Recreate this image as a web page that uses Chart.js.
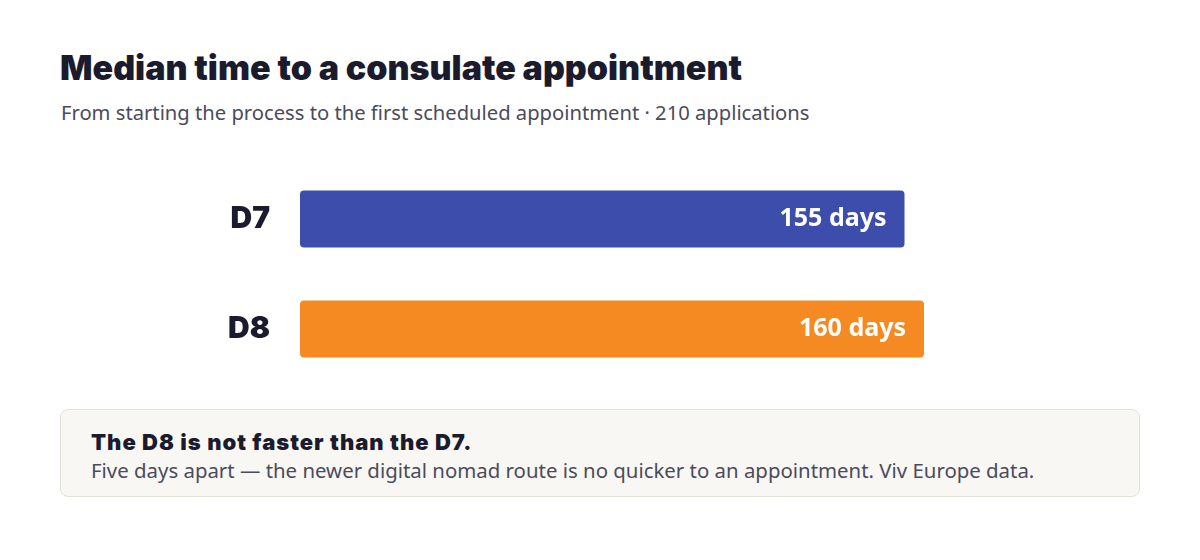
<!DOCTYPE html>
<html>
<head>
<meta charset="utf-8">
<script src="https://cdn.jsdelivr.net/npm/chart.js@4.4.1/dist/chart.umd.min.js"></script>
<style>
  body { margin: 0; background: #ffffff; font-family: "Noto Sans", sans-serif; }
  #page { position: relative; width: 1200px; height: 560px; overflow: hidden; }
  #title { position: absolute; left: 60px; top: 48px; margin: 0; font-family: Inter, sans-serif; font-size: 34px; font-weight: 900; color: #1b1b2e; line-height: 1.2; }
  #subtitle { position: absolute; left: 61px; top: 100px; margin: 0; font-size: 20.2px; color: #4b4b5c; line-height: 1.2; }
  #chart-box { position: absolute; left: 0; top: 124px; width: 1200px; height: 300px; }
  #note { position: absolute; left: 60px; top: 409px; width: 1080px; height: 88px; box-sizing: border-box;
          background: #f8f7f4; border: 1.5px solid #e3e1da; border-radius: 8px; padding: 19px 30px; }
  #note-head { margin: 0; font-family: Inter, sans-serif; font-size: 22px; font-weight: 900; letter-spacing: 1px; color: #1b1b2e; line-height: 1.2; }
  #note-body { margin: 3px 0 0; font-size: 20.4px; color: #4b4b5c; line-height: 1.2; }
</style>
</head>
<body>
<div id="page">
  <h1 id="title">Median time to a consulate appointment</h1>
  <p id="subtitle">From starting the process to the first scheduled appointment · 210 applications</p>
  <div id="chart-box"><canvas id="medianChart"></canvas></div>
  <div id="note">
    <p id="note-head">The D8 is not faster than the D7.</p>
    <p id="note-body">Five days apart — the newer digital nomad route is no quicker to an appointment. Viv Europe data.</p>
  </div>
</div>
<script>
// Data
const visaTypes = ["D7", "D8"];
const medianDays = [155, 160];
const barColors = ["#3d4dab", "#f68a22"];

// ::::: value labels inside the bar ends :::::
const insideLabels = {
    id: "insideLabels",
    afterDatasetsDraw(chart) {
        const ctx = chart.ctx;
        const meta = chart.getDatasetMeta(0);
        ctx.save();
        ctx.font = "700 25px 'Noto Sans', sans-serif";
        ctx.fillStyle = "#ffffff";
        ctx.textAlign = "right";
        ctx.textBaseline = "middle";
        meta.data.forEach((bar, i) => {
            ctx.fillText(medianDays[i] + " days", bar.x - 18, bar.y);
        });
        ctx.restore();
    }
};

var ctx = document.getElementById("medianChart");
var medianChart = new Chart(ctx, {
    type: "bar",
    data: {
        labels: visaTypes,
        datasets: [{
            label: "Median days",
            data: medianDays,
            backgroundColor: barColors,
            borderRadius: 4,
            borderSkipped: false,
            categoryPercentage: 1,
            barPercentage: 0.518
        }]
    },
    options: {
        indexAxis: "y",
        responsive: true,
        maintainAspectRatio: false,
        animation: false,
        layout: {
            padding: { top: 10, bottom: 10, left: 0, right: 120 }
        },
        scales: {
            x: {
                min: 0,
                max: 200,
                display: false
            },
            y: {
                grid: { display: false },
                border: { display: false },
                ticks: {
                    color: "#1b1b2e",
                    font: { family: "Inter, sans-serif", size: 30, weight: "900" },
                    padding: 22
                },
                afterFit: (scale) => { scale.width = 300; }
            }
        },
        plugins: {
            legend: { display: false },
            tooltip: { enabled: false }
        }
    },
    plugins: [insideLabels]
});
</script>
</body>
</html>
